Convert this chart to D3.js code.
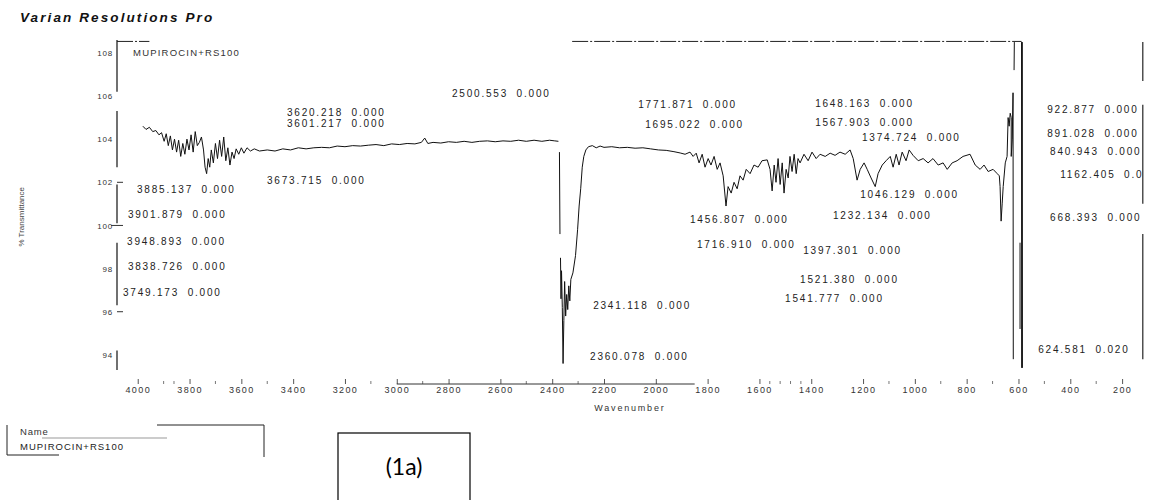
<!DOCTYPE html>
<html>
<head>
<meta charset="utf-8">
<script src="https://cdn.jsdelivr.net/npm/d3@7"></script>
<style>
body { margin: 0; background: #fff; }
svg { font-family: "Liberation Sans", Arial, sans-serif; }
</style>
</head>
<body>
<svg id="chart" width="1155" height="500"></svg>
<script>
// axis ticks
var xTicks = [4000, 3800, 3600, 3400, 3200, 3000, 2800, 2600, 2400, 2200, 2000, 1800, 1600, 1400, 1200, 1000, 800, 600, 400, 200];
var xMinor = [3900, 3860, 3700, 3500, 3100, 2900, 2500, 2300, 1560, 1520, 1480, 1440, 1100, 900, 700, 500, 300];
var yTicks = [108, 106, 104, 102, 100, 98, 96, 94];

// spectrum [wavenumber, %T], null = pen up
var spectrumHigh = [[3980,104.6],[3968,104.45],[3955,104.55],[3942,104.35],[3930,104.4],[3918,104.2],[3908,104.3],[3898,103.9],[3890,104.25],[3882,103.7],[3874,104.15],[3866,103.5],[3858,104.0],[3850,103.4],[3842,103.95],[3834,103.2],[3826,103.8],[3818,103.3],[3810,104.0],[3802,103.5],[3794,104.2],[3786,103.4],[3778,104.35],[3770,103.7],[3762,103.85],[3754,104.1],[3746,103.5],[3740,102.7],[3734,102.4],[3728,103.1],[3722,102.7],[3716,103.5],[3708,102.9],[3700,103.8],[3692,103.1],[3684,103.95],[3676,103.2],[3668,104.1],[3660,103.0],[3652,103.6],[3644,102.8],[3636,103.4],[3628,103.1],[3620,103.55],[3610,103.3],[3600,103.6],[3590,103.35],[3578,103.6],[3565,103.45],[3550,103.55],[3530,103.45],[3500,103.5],[3470,103.45],[3440,103.55],[3410,103.5],[3380,103.6],[3350,103.55],[3320,103.6],[3290,103.62],[3260,103.6],[3230,103.68],[3200,103.65],[3170,103.7],[3140,103.68],[3110,103.72],[3080,103.75],[3050,103.7],[3020,103.78],[2990,103.75],[2960,103.8],[2930,103.78],[2905,103.85],[2892,104.05],[2880,103.8],[2860,103.85],[2830,103.82],[2800,103.88],[2770,103.85],[2740,103.9],[2710,103.85],[2680,103.9],[2650,103.92],[2620,103.88],[2590,103.92],[2560,103.9],[2530,103.95],[2500,103.9],[2470,103.95],[2440,103.9],[2410,103.95],[2390,103.92],[2376,103.9]];
var spectrumCO2 = [null,[2372,103.4],[2370,99.6],null,[2368,98.5],[2366,96.6],[2364,97.9],[2361,96.2],[2358,93.6],[2355,95.6],[2352,97.4],[2348,95.8],[2344,96.8],[2340,96.1],[2336,97.2],[2332,96.5],[2328,97.5],[2320,97.8],[2310,98.6],[2302,99.8],[2296,100.9],[2290,101.7],[2284,102.7],[2278,103.2],[2270,103.5],[2260,103.65],[2245,103.7],[2230,103.6],[2215,103.68],[2200,103.62]];
var spectrumMid = [[2170,103.65],[2140,103.6],[2110,103.62],[2080,103.58],[2050,103.6],[2020,103.55],[1990,103.5],[1960,103.48],[1930,103.42],[1906,103.36],[1887,103.3],[1868,103.4],[1856,103.2],[1844,103.35],[1833,102.9],[1821,103.3],[1810,102.7],[1798,103.1],[1787,102.8],[1775,103.2],[1763,102.6],[1752,102.9],[1740,102.3],[1729,100.9],[1721,101.8],[1709,101.5],[1698,102.0],[1686,101.7],[1675,102.3],[1663,102.1],[1651,102.6],[1636,102.4],[1621,102.8],[1605,102.7],[1590,103.0],[1570,103.04],[1559,102.6],[1551,101.6],[1543,102.8],[1536,102.0],[1528,103.1],[1520,101.9],[1512,102.9],[1505,101.5],[1497,102.6],[1489,102.2],[1482,103.2],[1474,102.5],[1466,103.3],[1458,102.4],[1451,103.1],[1443,102.9],[1428,103.3],[1412,103.0],[1397,103.4],[1381,103.1],[1366,103.3],[1346,103.2],[1327,103.35],[1308,103.25],[1289,103.4],[1269,103.3],[1250,103.5],[1238,103.1],[1223,102.1],[1211,102.6],[1196,102.9],[1184,102.6],[1169,102.2],[1153,101.8],[1142,102.4],[1126,102.8],[1111,103.0],[1095,103.2],[1084,102.7],[1072,103.3],[1061,102.8],[1049,103.4],[1034,103.0],[1022,103.5],[1007,103.25],[987,103.0],[968,103.1],[949,102.9],[930,103.1],[910,102.8],[891,102.9],[875,102.6],[856,102.9],[837,103.0],[814,103.2],[787,103.3],[767,102.8],[748,102.6],[733,102.8],[717,102.5],[698,102.6],[682,102.4],[674,102.3]];
var spectrumEnd = [[671,101.8],[667,100.2],[663,101.0],[659,101.8],[651,102.9],[644,103.2],[640,105.0],[636,104.6],[632,105.2],[628,105.0],[628,103.2],[624,104.0],[621,106.15],[620,93.8],null,[617,107.2],[616,108.5],null,[594,99.2],[594,95.2],null,[588,108.5],[587,93.4],[586,108.5],[585,93.4]];

// peak annotations and where they sit [wavenumber, %T]
var peakText = ["3620.218 0.000","3601.217 0.000","2500.553 0.000","1771.871 0.000","1695.022 0.000","1648.163 0.000","1567.903 0.000","1374.724 0.000","922.877 0.000","891.028 0.000","840.943 0.000","1162.405 0.0","668.393 0.000","624.581 0.020","3885.137 0.000","3673.715 0.000","3901.879 0.000","3948.893 0.000","3838.726 0.000","3749.173 0.000","1456.807 0.000","1232.134 0.000","1046.129 0.000","1716.910 0.000","1397.301 0.000","1521.380 0.000","1541.777 0.000","2341.118 0.000","2360.078 0.000"];
var peakAt = [[3424,105.22],[3424,104.71],[2787,106.10],[2068,105.59],[2041,104.66],[1385,105.64],[1385,104.75],[1204,104.06],[489,105.36],[489,104.24],[478,103.41],[439,102.34],[478,100.35],[524,94.23],[4003,101.65],[3501,102.07],[4038,100.49],[4041,99.24],[4038,98.08],[4057,96.87],[1868,100.26],[1316,100.44],[1211,101.42],[1841,99.10],[1431,98.82],[1443,97.48],[1501,96.60],[2242,96.27],[2254,93.91]];

// broken frame pieces
var yAxisPieces = [[108.6,106.2],[105.3,102.7],[101.9,100.1],[99.2,96.3],[94.2,93.3]];
var rightEdgePieces = [[108.5,106.7],[105.6,101.0],[99.6,93.8]];
var topEdgePieces = [[4080,3955],[2323,588]];
var xAxisPiece = [3000, 1850];

var sampleName = "MUPIROCIN+RS100";

var x = d3.scaleLinear().domain([4080, 100]).range([117, 1148]);
var y = d3.scaleLinear().domain([92.65, 108.55]).range([384, 41]);

var svg = d3.select('#chart');

svg.append('text')
  .attr('x', 20).attr('y', 22)
  .attr('font-size', 13.5).attr('font-weight', 'bold').attr('font-style', 'italic')
  .attr('letter-spacing', 2.1)
  .attr('fill', '#111')
  .text('Varian Resolutions Pro');

// y axis (labels only, line is broken in pieces)
var yAxis = svg.append('g')
  .attr('transform', 'translate(' + x(4080) + ',0)')
  .call(d3.axisLeft(y).tickValues(yTicks).tickSize(0).tickPadding(4));
yAxis.select('.domain').remove();
yAxis.selectAll('text').attr('font-size', 8).attr('letter-spacing', 0.8).attr('fill', '#333');

svg.selectAll('.ypiece')
  .data(yAxisPieces).enter().append('line')
  .attr('x1', x(4080)).attr('x2', x(4080))
  .attr('y1', function(d) { return y(d[0]); })
  .attr('y2', function(d) { return y(d[1]); })
  .attr('stroke', '#111').attr('stroke-width', 1.2);

svg.selectAll('.ytick')
  .data([102, 100, 96]).enter().append('line')
  .attr('x1', function(d) { return d == 100 ? x(4080) - 6 : x(4080); })
  .attr('x2', x(4080) + 6)
  .attr('y1', function(d) { return y(d); })
  .attr('y2', function(d) { return y(d); })
  .attr('stroke', '#333');

svg.append('text')
  .attr('transform', 'translate(24,' + y(100.4) + ') rotate(-90)')
  .attr('text-anchor', 'middle')
  .attr('font-size', 8).attr('fill', '#444')
  .text('% Transmittance');

// right and top edges
svg.selectAll('.rpiece')
  .data(rightEdgePieces).enter().append('line')
  .attr('x1', x(120)).attr('x2', x(120))
  .attr('y1', function(d) { return y(d[0]); })
  .attr('y2', function(d) { return y(d[1]); })
  .attr('stroke', '#111').attr('stroke-width', 1.1);

svg.selectAll('.tpiece')
  .data(topEdgePieces).enter().append('line')
  .attr('x1', function(d) { return x(d[0]); })
  .attr('x2', function(d) { return x(d[1]); })
  .attr('y1', y(108.53)).attr('y2', y(108.53))
  .attr('stroke', '#222').attr('stroke-dasharray', '16,2,2,2');

// x axis
var xAxis = svg.append('g')
  .attr('transform', 'translate(0,' + y(92.65) + ')')
  .call(d3.axisBottom(x).tickValues(xTicks).tickFormat(d3.format('d')).tickSize(-5).tickPadding(3));
xAxis.select('.domain').remove();
xAxis.selectAll('line').attr('stroke', '#555');
xAxis.selectAll('text').attr('font-size', 9).attr('letter-spacing', 1.4).attr('fill', '#333');

svg.selectAll('.xminor')
  .data(xMinor).enter().append('line')
  .attr('x1', function(d) { return x(d); })
  .attr('x2', function(d) { return x(d); })
  .attr('y1', y(92.65) - 3).attr('y2', y(92.65))
  .attr('stroke', '#777');

svg.append('line')
  .attr('x1', x(xAxisPiece[0])).attr('x2', x(xAxisPiece[1]))
  .attr('y1', y(92.65)).attr('y2', y(92.65))
  .attr('stroke', '#333');

svg.append('text')
  .attr('x', x(2100)).attr('y', 411)
  .attr('text-anchor', 'middle')
  .attr('font-size', 9).attr('letter-spacing', 1.8).attr('fill', '#333')
  .text('Wavenumber');

// spectrum
var spectrum = spectrumHigh.concat(spectrumCO2, spectrumMid, spectrumEnd);
var line = d3.line()
  .defined(function(d) { return d !== null; })
  .x(function(d) { return x(d[0]); })
  .y(function(d) { return y(d[1]); });

svg.append('path')
  .datum(spectrum)
  .attr('d', line)
  .attr('fill', 'none')
  .attr('stroke', '#111')
  .attr('stroke-width', 1);

// annotations
var notes = svg.append('g');

notes.append('text')
  .attr('x', x(4018)).attr('y', y(108))
  .attr('dy', '0.35em')
  .attr('font-size', 9.5).attr('letter-spacing', 1.2).attr('fill', '#333')
  .text(sampleName);

notes.selectAll('.peak')
  .data(peakText).enter().append('text')
  .attr('x', function(d, i) { return x(peakAt[i][0]); })
  .attr('y', function(d, i) { return y(peakAt[i][1]); })
  .attr('dy', '0.35em')
  .attr('font-size', 10).attr('letter-spacing', 1.8).attr('word-spacing', 4)
  .attr('fill', '#222')
  .text(function(d) { return d; });

// name box bottom-left
var box = svg.append('g');
box.append('path').attr('d', 'M7,425 V455 H59').attr('fill', 'none').attr('stroke', '#222');
box.append('path').attr('d', 'M157,425 H264 V457').attr('fill', 'none').attr('stroke', '#222');
box.append('line').attr('x1', 42).attr('x2', 167).attr('y1', 438).attr('y2', 438).attr('stroke', '#999');
box.append('text').attr('x', 20).attr('y', 435)
  .attr('font-size', 9.5).attr('letter-spacing', 0.8).attr('fill', '#333').text('Name');
box.append('text').attr('x', 20).attr('y', 450)
  .attr('font-size', 9.5).attr('letter-spacing', 1).attr('fill', '#222').text(sampleName);

// figure label
svg.append('rect')
  .attr('x', 338).attr('y', 433).attr('width', 132).attr('height', 80)
  .attr('fill', 'none').attr('stroke', '#000').attr('stroke-width', 1.2);
svg.append('text')
  .attr('x', 404).attr('y', 475)
  .attr('text-anchor', 'middle')
  .attr('font-family', 'Lato, "Open Sans", sans-serif')
  .attr('font-size', 23).attr('fill', '#000')
  .text('(1a)');
</script>
</body>
</html>
